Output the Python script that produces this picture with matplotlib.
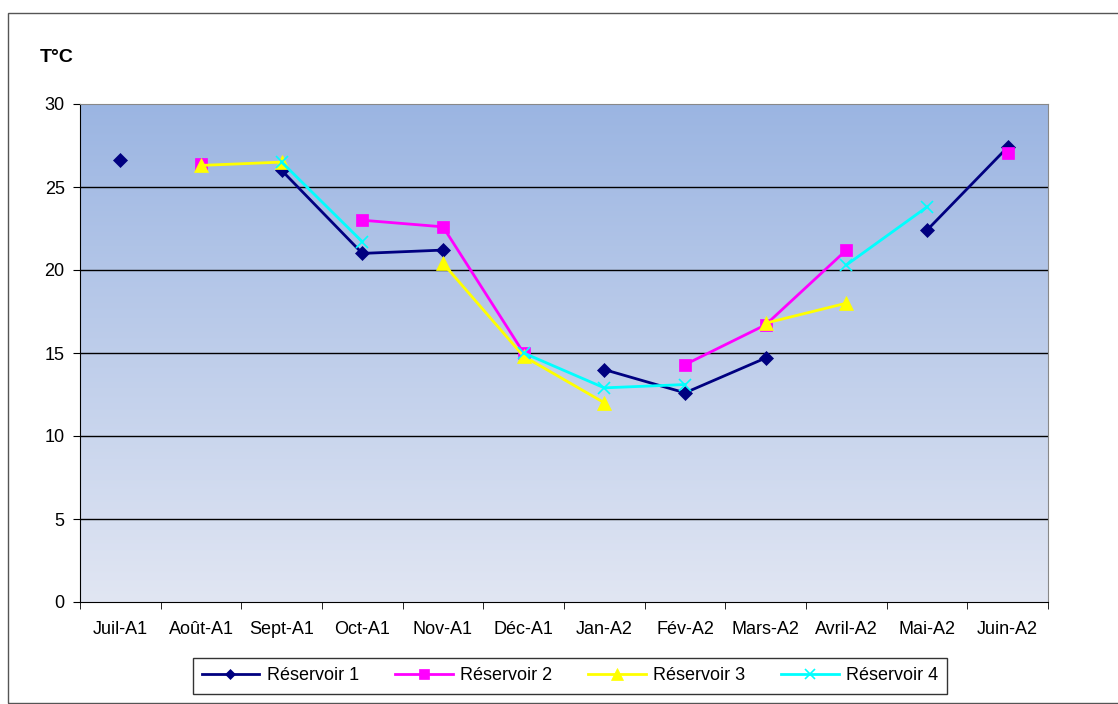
import numpy as np
import matplotlib
matplotlib.use("Agg")
import matplotlib.pyplot as plt
from matplotlib.patches import Rectangle

plt.rcParams['font.family'] = ['Liberation Sans', 'DejaVu Sans']

# Data
months = ['Juil-A1', 'Août-A1', 'Sept-A1', 'Oct-A1', 'Nov-A1', 'Déc-A1',
          'Jan-A2', 'Fév-A2', 'Mars-A2', 'Avril-A2', 'Mai-A2', 'Juin-A2']
nan = np.nan
res1 = [26.6, nan, 26.0, 21.0, 21.2, nan, 14.0, 12.6, 14.7, nan, 22.4, 27.4]
res2 = [nan, 26.4, nan, 23.0, 22.6, 15.0, nan, 14.3, 16.7, 21.2, nan, 27.05]
res3 = [nan, 26.3, 26.5, nan, 20.4, 14.8, 12.0, nan, 16.8, 18.0, nan, nan]
res4 = [nan, nan, 26.5, 21.7, nan, 15.0, 12.9, 13.1, nan, 20.3, 23.8, nan]
y_ticks = [0, 5, 10, 15, 20, 25, 30]

fig = plt.figure(figsize=(11.18, 7.04), dpi=100)
# outer frame
fig.patches.append(Rectangle((8 / 1118, 0.002), 1.2, 1 - 14 / 704, transform=fig.transFigure,
                             fill=False, edgecolor='#555555', linewidth=1))
ax = fig.add_axes([80 / 1118, 1 - 602 / 704, 968 / 1118, 498 / 704])

x = np.arange(len(months))

# gradient background (darker at top)
grad = np.linspace(0, 1, 256).reshape(-1, 1)
top = np.array([155, 181, 226]) / 255
bottom = np.array([225, 230, 243]) / 255
img = top + (bottom - top) * grad[:, :, None]
ax.imshow(img, extent=(-0.5, len(months) - 0.5, 0, 30), aspect='auto', zorder=0, origin='upper')
ax.set_xlim(-0.5, len(months) - 0.5)
ax.set_ylim(0, 30)

for yv in y_ticks[1:-1]:
    ax.axhline(yv, color='black', linewidth=1, zorder=1)

series = [
    ('Réservoir 1', res1, '#000080', 'D', 7),
    ('Réservoir 2', res2, '#FF00FF', 's', 9),
    ('Réservoir 3', res3, '#FFFF00', '^', 10),
    ('Réservoir 4', res4, '#00FFFF', 'x', 9),
]
for label, vals, col, mk, ms in series:
    ax.plot(x, vals, color=col, marker=mk, markersize=ms, linewidth=2,
            markeredgewidth=1.2 if mk == 'x' else 0.5, markeredgecolor=col,
            label=label, zorder=3)

ax.set_yticks(y_ticks)
ax.set_xticks(x)
ax.set_xticklabels(months)
ax.set_xticks(np.arange(-0.5, len(months)), minor=True)
ax.tick_params(axis='x', which='major', length=0, pad=14, labelsize=13)
ax.tick_params(axis='x', which='minor', length=5, direction='out')
ax.tick_params(axis='y', length=5, direction='out', labelsize=13, pad=6)
for s in ['top', 'right']:
    ax.spines[s].set_color('#888888')
ax.spines['left'].set_color('black')
ax.spines['bottom'].set_color('black')

fig.text(40 / 1118, 1 - 58 / 704, 'T°C', fontsize=14, fontweight='bold', va='center')

leg = fig.legend(loc='center', bbox_to_anchor=(570 / 1118, 1 - 676 / 704), ncol=4,
                 frameon=True, fancybox=False, edgecolor='black', fontsize=13,
                 handlelength=3.2, handletextpad=0.4, columnspacing=2.0,
                 borderpad=0.5, markerscale=0.8)
leg.get_frame().set_linewidth(1)

fig.savefig('out.png', dpi=100)
